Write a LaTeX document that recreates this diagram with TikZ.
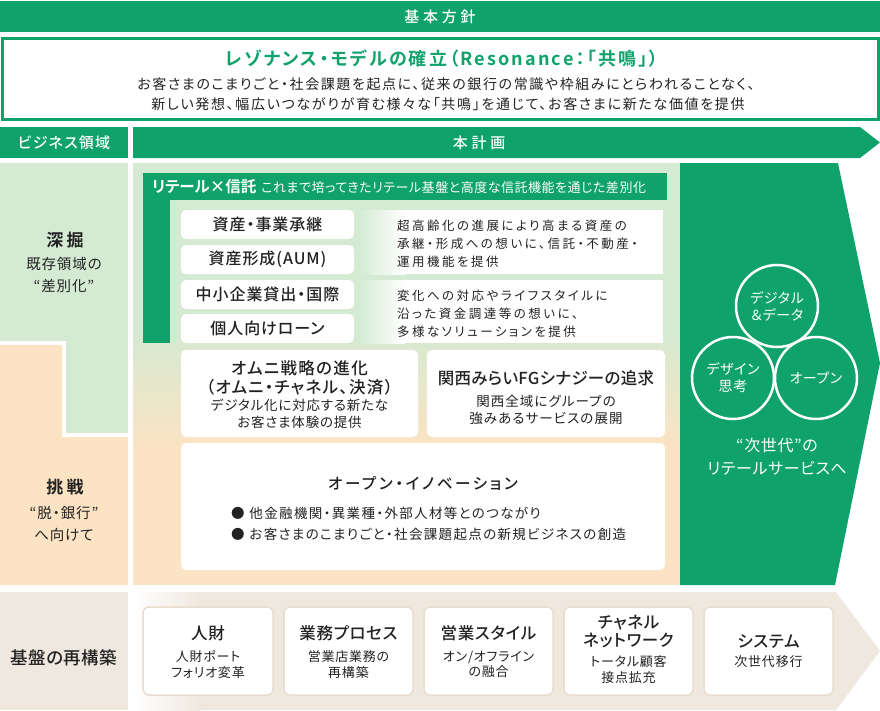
\documentclass[tikz,border=0pt]{standalone}
\usepackage{fontspec}
\setmainfont{Noto Sans CJK JP}
\newfontfamily\pal{Noto Sans CJK JP}[RawFeature=+palt]
\newfontfamily\med{Noto Sans CJK JP Medium}[RawFeature=+palt]
\newfontfamily\palb{Noto Sans CJK JP Bold}[RawFeature=+palt]
\definecolor{kgreen}{HTML}{0FA36B}
\definecolor{lgreen}{HTML}{D4EAD2}
\definecolor{peach}{HTML}{FCE3C3}
\definecolor{beige}{HTML}{EFE8DE}
\definecolor{beigeline}{HTML}{E8DDCE}
\definecolor{ink}{HTML}{222222}
\newcommand\myfs[2]{\fontsize{#1}{#2}\selectfont}
\newcommand\ls[1]{\addfontfeature{LetterSpace=#1}}
\begin{document}
\begin{tikzpicture}[x=1pt,y=-1pt,
  every node/.style={inner sep=0pt, outer sep=0pt},
  txt/.style={text=ink, align=center},
  wtxt/.style={text=white, align=center},
  wbox/.style={fill=white, rounded corners=5pt},
  bbox/.style={fill=white, draw=beigeline, line width=1.5pt, rounded corners=6pt},
  circ/.style={circle, draw=white, line width=2.5pt, minimum size=82pt, text=white, align=center, font=\pal\myfs{14}{17}\ls{4}}
]
\useasboundingbox (0,0) rectangle (880,710);
\fill[white] (0,0) rectangle (880,710);

% top banner
\fill[kgreen] (0,1) rectangle (880,32);
\node[wtxt, font=\med\myfs{15}{18}\ls{25}] (kihon) at (440,17) {基本方針};

\draw[kgreen, line width=3pt, fill=white] (2,38.5) rectangle (878,119.5);
\node[text=kgreen, font=\palb\myfs{18}{20}\ls{12}] (reso) at (442,59) {レゾナンス・モデルの確立（Resonance：「共鳴」）};
\node[txt, font=\pal\myfs{14}{20}\ls{11.5}] (reso1) at (446,84) {お客さまのこまりごと・社会課題を起点に、従来の銀行の常識や枠組みにとらわれることなく、};
\node[txt, font=\pal\myfs{14}{20}\ls{12}] (reso2) at (448,104) {新しい発想、幅広いつながりが育む様々な「共鳴」を通じて、お客さまに新たな価値を提供};

% second row
\fill[kgreen] (0,127) rectangle (128,158);
\node[wtxt, font=\med\myfs{15}{18}\ls{8}] (biz) at (64,142.5) {ビジネス領域};
\fill[kgreen] (133,127) -- (860,127) -- (880,142.5) -- (860,158) -- (133,158) -- cycle;
\node[wtxt, font=\med\myfs{15}{18}\ls{25}] (honkei) at (479,142.5) {本計画};

% left column
\fill[lgreen] (0,163) rectangle (128,341);
\fill[lgreen] (66,341) rectangle (128,433);
\fill[peach] (0,345) -- (62,345) -- (62,437) -- (128,437) -- (128,585) -- (0,585) -- cycle;
\node[txt, font=\palb\myfs{17}{20}\ls{20}] (fuka) at (65,240) {深掘};
\node[txt, font=\pal\myfs{14.5}{22}\ls{6}] (fuka2) at (64,275) {既存領域の\\“差別化”};
\node[txt, font=\palb\myfs{17}{20}\ls{20}] (chou) at (65,487) {挑戦};
\node[txt, font=\pal\myfs{14.5}{22}\ls{6}] (chou2) at (64,524) {“脱・銀行”\\へ向けて};

% main area
\fill[lgreen] (133,163) rectangle (680,330);
\shade[top color=lgreen, bottom color=peach] (133,330) rectangle (680,450);
\fill[peach] (133,450) rectangle (680,585);

% right green arrow
\fill[kgreen] (680,163) -- (838,163) -- (880,363) -- (835,585) -- (680,585) -- cycle;

% retail x trust
\fill[kgreen] (143,173) rectangle (667,200);
\fill[kgreen] (143,200) rectangle (170,343);
\node[anchor=west, text=white] (retail) at (152,187) {{\palb\myfs{15.5}{18}リテール×信託}\hspace{5pt}{\pal\myfs{13}{15}\ls{4}これまで培ってきたリテール基盤と高度な信託機能を通じた差別化}};

\fill[wbox] (181,210) rectangle (354,239);
\fill[wbox] (181,245) rectangle (354,274);
\fill[wbox] (181,280) rectangle (354,309);
\fill[wbox] (181,314) rectangle (354,343);
\node[txt, font=\med\myfs{16}{18}\ls{6}] (shisan) at (267.5,224.5) {資産・事業承継};
\node[txt, font=\med\myfs{16}{18}\ls{6}] (aum) at (267.5,259.5) {資産形成(AUM)};
\node[txt, font=\med\myfs{16}{18}\ls{6}] (chusho) at (267.5,294.5) {中小企業貸出・国際};
\node[txt, font=\med\myfs{16}{18}\ls{6}] (kojin) at (267.5,328.5) {個人向けローン};

\shade[left color=lgreen, right color=white] (358,210) rectangle (405,274);
\fill[white] (405,210) rectangle (663,274);
\shade[left color=lgreen, right color=white] (358,280) rectangle (405,343);
\fill[white] (405,280) rectangle (663,343);
\node[anchor=west, text=ink, align=left, font=\pal\myfs{12.5}{18}\ls{20}] (desc1) at (397,244) {超高齢化の進展により高まる資産の\\承継・形成への想いに、信託・不動産・\\運用機能を提供};
\node[anchor=west, text=ink, align=left, font=\pal\myfs{12.5}{18}\ls{20}] (desc2) at (397,314) {変化への対応やライフスタイルに\\沿った資金調達等の想いに、\\多様なソリューションを提供};

% omni
\fill[wbox] (181,350) rectangle (418,437);
\node[txt, font=\med\myfs{16.5}{19}\ls{8}] (omni) at (299.5,377.5) {オムニ戦略の進化\\（オムニ・チャネル、決済）};
\node[txt, font=\pal\myfs{13.5}{17}\ls{6}] (omni2) at (299.5,413.5) {デジタル化に対応する新たな\\お客さま体験の提供};

% kansai
\fill[wbox] (427,350) rectangle (665,437);
\node[txt, font=\med\myfs{16.5}{19}\ls{2}] (kansai) at (546,378) {関西みらいFGシナジーの追求};
\node[txt, font=\pal\myfs{13.5}{17}\ls{8}] (kansai2) at (546,410) {関西全域にグループの\\強みあるサービスの展開};

% open innovation
\fill[wbox] (181,443) rectangle (665,570);
\node[txt, font=\med\myfs{15.5}{18}\ls{17}] (openi) at (423,483) {オープン・イノベーション};
\node[anchor=west, text=ink, font=\pal\myfs{13.5}{16}\ls{10}] (bul1) at (231,513) {●\hspace{5pt}他金融機関・異業種・外部人材等とのつながり};
\node[anchor=west, text=ink, font=\pal\myfs{13.5}{16}\ls{10}] (bul2) at (231,534) {●\hspace{5pt}お客さまのこまりごと・社会課題起点の新規ビジネスの創造};

% circles
\node[circ] (c1) at (777,306) {デジタル\\＆データ};
\node[circ] (c2) at (733,378) {デザイン\\思考};
\node[circ] (c3) at (816,378) {オープン};
\node[wtxt, font=\pal\myfs{16}{23}\ls{4}] (next) at (777,456.5) {“次世代”の\\リテールサービスへ};

% bottom row
\fill[beige] (0,592) rectangle (128,710);
\node[txt, font=\med\myfs{17.5}{20}\ls{2}] (kiban) at (64,658) {基盤の再構築};
\fill[beige] (133,592) -- (836,592) -- (880,651) -- (836,710) -- (133,710) -- cycle;
\shade[left color=white, right color=beige] (133,592) rectangle (200,710);

\filldraw[bbox] (143,607) rectangle (273,695);
\filldraw[bbox] (284,607) rectangle (413,695);
\filldraw[bbox] (424,607) rectangle (553,695);
\filldraw[bbox] (564,607) rectangle (693,695);
\filldraw[bbox] (704,607) rectangle (833,695);

\node[txt, font=\med\myfs{16.5}{18}\ls{6}] (jinzai) at (208,633) {人財};
\node[txt, font=\pal\myfs{13}{15.5}\ls{6}] (jinzai2) at (208,664.5) {人財ポート\\フォリオ変革};
\node[txt, font=\med\myfs{16.5}{18}\ls{4}] (gyomu) at (348.5,633) {業務プロセス};
\node[txt, font=\pal\myfs{13}{15.5}\ls{6}] (gyomu2) at (348.5,664.5) {営業店業務の\\再構築};
\node[txt, font=\med\myfs{16.5}{18}\ls{4}] (eigyo) at (488.5,633) {営業スタイル};
\node[txt, font=\pal\myfs{13}{15.5}\ls{6}] (eigyo2) at (488.5,664.5) {オン/オフライン\\の融合};
\node[txt, font=\med\myfs{16.5}{18}\ls{4}] (channel) at (628.5,632) {チャネル\\ネットワーク};
\node[txt, font=\pal\myfs{13}{16}\ls{6}] (channel2) at (628.5,670) {トータル顧客\\接点拡充};
\node[txt, font=\med\myfs{16.5}{18}\ls{4}] (system) at (768.5,642) {システム};
\node[txt, font=\pal\myfs{13}{15.5}\ls{6}] (system2) at (768.5,662) {次世代移行};
\end{tikzpicture}
\end{document}
